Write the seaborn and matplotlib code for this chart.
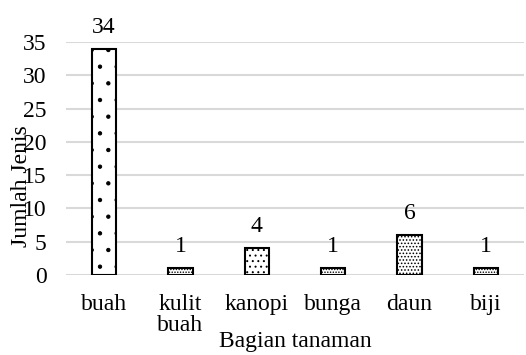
import matplotlib
matplotlib.use("Agg")
import matplotlib.pyplot as plt
import seaborn as sns
import pandas as pd

categories = ["buah", "kulit\nbuah", "kanopi", "bunga", "daun", "biji"]
values = [34, 1, 4, 1, 6, 1]
hatches = [".", "......", "...", "......", ".....", "......"]

sns.set_theme(style="white")
plt.rcParams["font.family"] = ["Liberation Serif", "DejaVu Serif"]
plt.rcParams["hatch.linewidth"] = 0.7

df = pd.DataFrame({"cat": categories, "val": values})

FS = 17
fig = plt.figure(figsize=(5.26, 3.55), dpi=100)
ax = fig.add_axes([0.1255, 0.2254, 0.8705, 0.6563])
sns.barplot(data=df, x="cat", y="val", ax=ax, color="white", width=0.32,
            edgecolor="black", linewidth=1.5, zorder=3)
for bar, h in zip(ax.patches, hatches):
    bar.set_hatch(h)

for bar, v in zip(ax.patches, values):
    ax.annotate(str(v), (bar.get_x() + bar.get_width() / 2, v),
                xytext=(0, 8), textcoords="offset points",
                ha="center", va="bottom", fontsize=FS, color="black")

ax.set_ylim(0, 35)
ax.set_yticks(range(0, 36, 5))
ax.set_xlim(-0.5, 5.5)
ax.yaxis.grid(True, color="#d9d9d9", linewidth=1.5, zorder=0)
for s in ax.spines.values():
    s.set_visible(False)
ax.tick_params(axis="both", length=0, labelsize=FS, colors="black")
ax.tick_params(axis="x", pad=14)
ax.tick_params(axis="y", pad=14)
for lbl in ax.get_xticklabels():
    lbl.set_linespacing(1.0)
ax.set_xlabel("Bagian tanaman", fontsize=FS, color="black", labelpad=-4)
ax.set_ylabel("")
fig.text(0.04, 0.476, "Jumlah Jenis", rotation=90, fontsize=FS,
         ha="center", va="center", color="black")

fig.savefig("out.png", dpi=100)
